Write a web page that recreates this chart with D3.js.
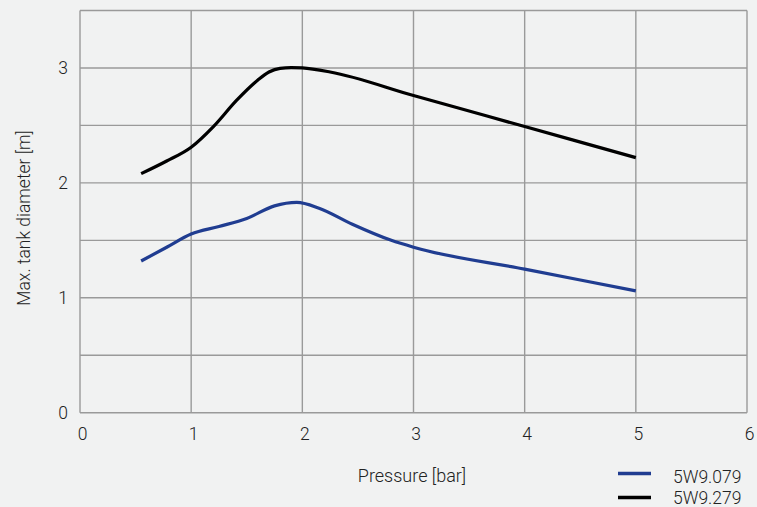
<!DOCTYPE html>
<html><head><meta charset="utf-8">
<script src="https://cdn.jsdelivr.net/npm/d3@7"></script>
<style>
html,body{margin:0;padding:0;background:#f1f2f2;}
text{font-family:Roboto,"Liberation Sans",Arial,sans-serif;font-weight:300;}
</style></head>
<body><svg id="c" width="757" height="507"></svg>
<script>
const seriesNames = ["5W9.079", "5W9.279"];
const seriesColors = ["#203d91", "#000000"];
const pressure079 = [0.55, 0.78, 1.0, 1.25, 1.5, 1.75, 1.95, 2.15, 2.45, 2.8, 3.0, 4.0, 5.0];
const diameter079 = [1.32, 1.44, 1.555, 1.62, 1.69, 1.8, 1.83, 1.78, 1.64, 1.5, 1.44, 1.25, 1.06];
const pressure279 = [0.55, 0.78, 1.0, 1.2, 1.41, 1.6, 1.7, 1.8, 1.9, 2.0, 2.25, 3.0, 4.0, 5.0];
const diameter279 = [2.08, 2.19, 2.31, 2.49, 2.72, 2.895, 2.965, 2.997, 3.003, 3.0, 2.965, 2.76, 2.49, 2.22];
const xTicks = [0, 1, 2, 3, 4, 5, 6];
const yTicks = [0, 1, 2, 3];
const yGrid = [0, 0.5, 1, 1.5, 2, 2.5, 3, 3.5];

const svg = d3.select("#c");
const x = d3.scaleLinear().domain([0, 6]).range([80, 747]);
const y = d3.scaleLinear().domain([0, 3.5]).range([412.7, 10.5]);

const g = svg.append("g");
g.selectAll(".hg").data(yGrid).join("line")
  .attr("x1", x(0)).attr("x2", x(6)).attr("y1", d => y(d)).attr("y2", d => y(d))
  .attr("stroke", "#9a9a9a").attr("stroke-width", 1.4);
g.selectAll(".vg").data(xTicks).join("line")
  .attr("y1", y(0)).attr("y2", y(3.5)).attr("x1", d => x(d)).attr("x2", d => x(d))
  .attr("stroke", "#9a9a9a").attr("stroke-width", 1.4);

const xAxis = d3.axisBottom(x).tickValues(xTicks).tickSize(0).tickPadding(15).tickFormat(d3.format("d"));
const ya = d3.axisLeft(y).tickValues(yTicks).tickSize(0).tickPadding(12).tickFormat(d3.format("d"));
const gx = svg.append("g").attr("transform", `translate(0,${y(0)})`).call(xAxis);
const gy = svg.append("g").attr("transform", `translate(${x(0)},0)`).call(ya);
[gx, gy].forEach(a => {
  a.select(".domain").remove();
  a.selectAll("text").attr("font-size", 17.5).attr("fill", "#222")
    .attr("font-family", "Roboto, Liberation Sans, Arial, sans-serif").attr("font-weight", 300);
});
gx.selectAll("text").attr("dx", 2);

const series = [
  {name: seriesNames[0], color: seriesColors[0], xs: pressure079, ys: diameter079},
  {name: seriesNames[1], color: seriesColors[1], xs: pressure279, ys: diameter279}
];
const line = d3.line().x(d => x(d[0])).y(d => y(d[1])).curve(d3.curveMonotoneX);
series.forEach(s => {
  svg.append("path").datum(s.xs.map((v, i) => [v, s.ys[i]]))
    .attr("d", line).attr("fill", "none").attr("stroke", s.color)
    .attr("stroke-width", 3.2).attr("stroke-linejoin", "round");
});

svg.append("text").attr("transform", `translate(30,218) rotate(-90)`)
  .attr("text-anchor", "middle").attr("font-size", 17.5).attr("fill", "#222")
  .text("Max. tank diameter [m]");
svg.append("text").attr("x", 412).attr("y", 482)
  .attr("text-anchor", "middle").attr("font-size", 18).attr("fill", "#222")
  .text("Pressure [bar]");

const leg = svg.append("g");
const legLineY = [473.5, 497.5];
const legTextY = [483.3, 504];
series.forEach((s, i) => {
  leg.append("line").attr("x1", 618).attr("x2", 651).attr("y1", legLineY[i]).attr("y2", legLineY[i])
    .attr("stroke", s.color).attr("stroke-width", 3.5);
  leg.append("text").attr("x", 673).attr("y", legTextY[i]).attr("font-size", 17.5).attr("fill", "#222").text(s.name);
});
</script></body></html>
